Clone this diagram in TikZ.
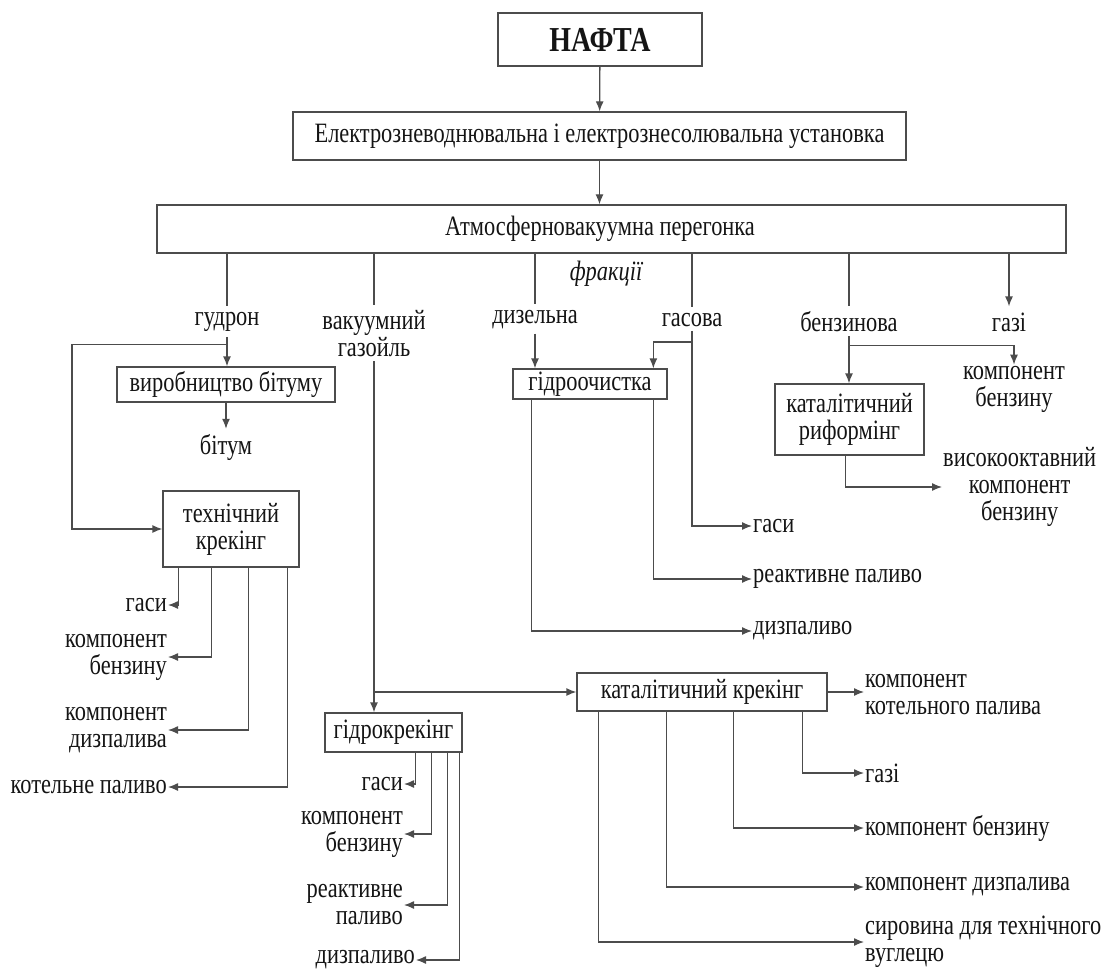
\documentclass[tikz,border=0pt]{standalone}
\usepackage{fontspec}
\setmainfont{Liberation Serif}[FakeStretch=0.80]
\usetikzlibrary{arrows.meta}
\definecolor{linec}{gray}{0.3}
\definecolor{txtc}{gray}{0.08}
\tikzset{
  box/.style={draw=linec, line width=1.3pt, inner sep=0pt, align=center, text=txtc},
  lbl/.style={inner sep=1pt, align=center, text=txtc},
  conn/.style={draw=linec, line width=1.3pt},
  arr/.style={conn, -{Latex[length=10pt,width=8pt]}},
}
\begin{document}
\begin{tikzpicture}[x=1pt,y=-1pt,font=\fontsize{28}{27}\selectfont]
\useasboundingbox (0,0) rectangle (1110,973);
\fill[white] (0,0) rectangle (1110,973);

% top chain
\node[box, minimum width=204pt, minimum height=53pt, font=\fontsize{35}{35}\selectfont\bfseries] (nafta) at (600,39.5) {НАФТА};
\node[box, minimum width=613pt, minimum height=48pt] (elek) at (599.5,136) {Електрозневоднювальна і електрознесолювальна установка};
\node[box, minimum width=909pt, minimum height=48pt] (atm) at (611.5,229) {};
\node[lbl] (atmtext) at (600,229) {Атмосферновакуумна перегонка};
\draw[arr] (nafta) -- (elek);
\draw[arr] (elek.south) -- (elek.south |- atm.north);

\node[lbl, font=\fontsize{28}{27}\selectfont\itshape] (frak) at (606,274) {фракції};

% fractions
\node[lbl] (gudron) at (227,322) {гудрон};
\node[lbl] (vak) at (374,334) {вакуумний\\газойль};
\node[lbl] (dyz) at (535,320) {дизельна};
\node[lbl] (gas) at (692,320) {гасова};
\node[lbl] (benz) at (849,322) {бензинова};
\node[lbl] (gazi) at (1009,322) {газі};

\draw[conn, shorten >=5pt] (gudron |- atm.south) -- (gudron.north);
\draw[conn, shorten >=5pt] (vak |- atm.south) -- (vak.north);
\draw[conn, shorten >=5pt] (dyz |- atm.south) -- (dyz.north);
\draw[conn, shorten >=5pt] (gas |- atm.south) -- (gas.north);
\draw[conn, shorten >=5pt] (benz |- atm.south) -- (benz.north);
\draw[arr, shorten >=5pt] (gazi |- atm.south) -- (gazi.north);

% гудрон branch
\node[box, minimum width=218pt, minimum height=35pt] (vyrob) at (226,384.5) {виробництво бітуму};
\node[lbl] (bitum) at (226,447) {бітум};
\node[box, minimum width=136pt, minimum height=76pt] (tech) at (231,529) {технічний\\крекінг};
\coordinate (loopc) at (72,440);
\draw[arr, shorten <=4pt] (gudron.south) -- (gudron.south |- vyrob.north);
\draw[arr] ([yshift=-12pt]gudron.south) -| (loopc) |- (tech.west);
\draw[arr, shorten >=4pt] (vyrob.south) -- (bitum.north);

\node[lbl, anchor=east] (tg1) at (168,605) {гаси};
\node[lbl, anchor=east, align=right] (tg2) at (168,657) {компонент\\бензину};
\node[lbl, anchor=east, align=right] (tg3) at (168,730) {компонент\\дизпалива};
\node[lbl, anchor=east] (tg4) at (168,787) {котельне паливо};
\draw[arr] ([xshift=16pt]tech.south west) |- (tg1.east);
\draw[arr] ([xshift=49pt]tech.south west) |- (tg2.east);
\draw[arr] ([xshift=86pt]tech.south west) |- (tg3.east);
\draw[arr] ([xshift=125pt]tech.south west) |- (tg4.east);

% вакуумний газойль branch
\node[box, minimum width=137pt, minimum height=39pt] (hydro) at (393.5,732.5) {гідрокрекінг};
\node[box, minimum width=250pt, minimum height=38pt] (cc) at (702,692) {каталітичний крекінг};
\draw[arr, shorten <=3pt] (vak.south) -- (vak.south |- hydro.north);
\draw[arr] (vak.south |- cc.west) -- (cc.west);

\node[lbl, anchor=east] (hg1) at (404,784) {гаси};
\node[lbl, anchor=east, align=right] (hg2) at (404,834) {компонент\\бензину};
\node[lbl, anchor=east, align=right] (hg3) at (404,905) {реактивне\\паливо};
\node[lbl, anchor=east] (hg4) at (416,960) {дизпаливо};
\draw[arr] ([xshift=91pt]hydro.south west) |- (hg1.east);
\draw[arr] ([xshift=107pt]hydro.south west) |- (hg2.east);
\draw[arr] ([xshift=123pt]hydro.south west) |- (hg3.east);
\draw[arr] ([xshift=135pt]hydro.south west) |- (hg4.east);

% дизельна / гасова branch
\node[box, minimum width=154pt, minimum height=30pt] (hyd) at (590,384) {гідроочистка};
\draw[arr, shorten <=3pt] (dyz.south) -- (dyz.south |- hyd.north);
\node[lbl, anchor=west] (ga1) at (752,526) {гаси};
\node[lbl, anchor=west] (ga2) at (752,579) {реактивне паливо};
\node[lbl, anchor=west] (ga3) at (752,631) {дизпаливо};
\draw[arr, shorten <=3pt] (gas.south) |- (ga1.west);
\draw[arr] ([yshift=-14pt]gas.south) -| ([xshift=141pt]hyd.north west);
\draw[arr] ([xshift=19pt]hyd.south west) |- (ga3.west);
\draw[arr] ([xshift=141pt]hyd.south west) |- (ga2.west);

% бензинова branch
\node[box, minimum width=149pt, minimum height=71pt] (rif) at (849.5,419.5) {каталітичний\\риформінг};
\node[lbl] (kb) at (1014,389) {компонент\\бензину};
\node[lbl, anchor=west] (vk) at (942,487) {високооктавний\\компонент\\бензину};
\draw[arr, shorten <=3pt] (benz.south) -- (benz.south |- rif.north);
\draw[arr] ([yshift=-12pt]benz.south) -| (kb.north);
\draw[arr] ([xshift=-4pt]rif.south) |- (vk.west);

% каталітичний крекінг outputs
\node[lbl, anchor=west, align=left] (c1) at (864,695) {компонент\\котельного палива};
\node[lbl, anchor=west] (c2) at (864,773) {газі};
\node[lbl, anchor=west] (c3) at (864,828) {компонент бензину};
\node[lbl, anchor=west] (c4) at (864,887) {компонент дизпалива};
\node[lbl, anchor=west, align=left] (c5) at (864,942) {сировина для технічного\\вуглецю};
\draw[arr] (cc.east) -- (cc.east -| c1.west);
\draw[arr] ([xshift=226pt]cc.south west) |- (c2.west);
\draw[arr] ([xshift=157pt]cc.south west) |- (c3.west);
\draw[arr] ([xshift=90pt]cc.south west) |- (c4.west);
\draw[arr] ([xshift=22pt]cc.south west) |- (c5.west);
\end{tikzpicture}
\end{document}
